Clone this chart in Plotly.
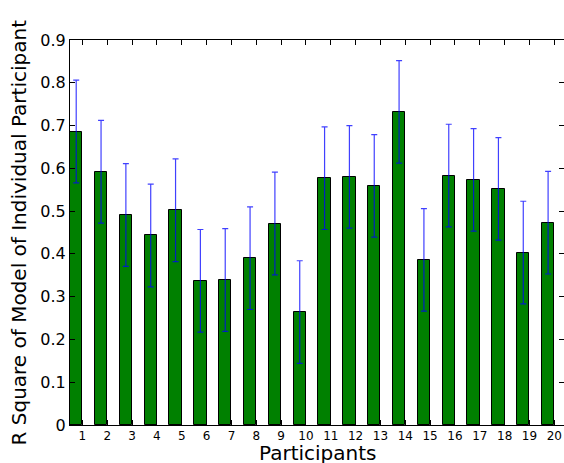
import plotly.graph_objects as go

participants = list(range(1, 21))
r_square = [0.686, 0.592, 0.491, 0.443, 0.502, 0.337, 0.339, 0.390, 0.471, 0.264,
            0.577, 0.580, 0.559, 0.732, 0.386, 0.583, 0.573, 0.552, 0.403, 0.473]
errors = [0.12] * 20
x_tick_labels = [str(p) for p in participants]
y_tick_vals = [0, 0.1, 0.2, 0.3, 0.4, 0.5, 0.6, 0.7, 0.8, 0.9]
y_tick_text = ["0", "0.1", "0.2", "0.3", "0.4", "0.5", "0.6", "0.7", "0.8", "0.9"]
x_title = "Participants"
y_title = "R Square of Model of Individual Participant"

BAR_W = 0.5
FONT = "DejaVu Sans"

fig = go.Figure()
fig.add_trace(go.Bar(
    x=participants, y=r_square, width=BAR_W, offset=-BAR_W,
    marker=dict(color="#008000", line=dict(color="black", width=1)),
    showlegend=False, hoverinfo="skip",
))
fig.add_trace(go.Scatter(
    x=[p - BAR_W / 2 for p in participants], y=r_square, mode="markers",
    marker=dict(size=1, opacity=0),
    error_y=dict(type="data", array=errors, visible=True,
                 color="rgba(0,0,255,0.75)", thickness=1.2, width=3),
    showlegend=False, hoverinfo="skip",
))

fig.update_layout(
    width=564, height=463,
    margin=dict(l=70, r=0, t=40, b=38),
    paper_bgcolor="white", plot_bgcolor="white",
    font=dict(family=FONT, color="black"),
    bargap=0,
    annotations=[
        dict(text=x_title, xref="paper", yref="paper", x=0.5, y=0,
             xanchor="center", yanchor="middle", yshift=-28, showarrow=False,
             font=dict(size=20, family=FONT, color="black")),
        dict(text=y_title, xref="paper", yref="paper", x=0, y=0.5,
             xanchor="center", yanchor="middle", xshift=-52, textangle=-90,
             showarrow=False, font=dict(size=20, family=FONT, color="black")),
    ],
)
fig.update_xaxes(
    range=[0.5, 20.39], automargin=False,
    tickmode="array", tickvals=participants, ticktext=x_tick_labels,
    tickfont=dict(size=12, family=FONT, color="black"),
    ticks="inside", ticklen=5, tickcolor="black", tickwidth=1,
    showline=True, linecolor="black", linewidth=1, mirror="ticks",
    showgrid=False, zeroline=False,
)
fig.update_yaxes(
    range=[0, 0.9], automargin=False,
    tickmode="array", tickvals=y_tick_vals, ticktext=y_tick_text,
    tickfont=dict(size=16, family=FONT, color="black"),
    ticks="inside", ticklen=5, tickcolor="black", tickwidth=1,
    showline=True, linecolor="black", linewidth=1, mirror="ticks",
    showgrid=False, zeroline=False,
)

fig.write_html(
    "out.html",
    config={"displayModeBar": False},
    post_script="document.body.style.margin='0';document.body.style.overflow='hidden';",
)
